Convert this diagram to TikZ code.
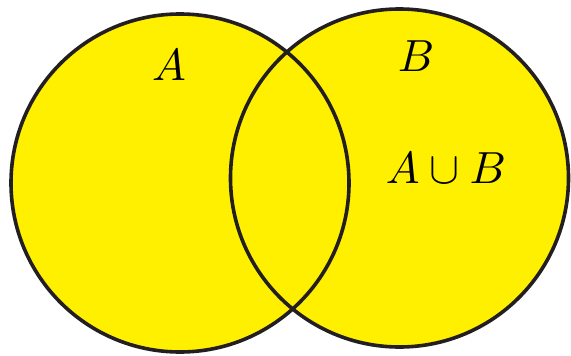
\documentclass[tikz,border=0pt]{standalone}
\definecolor{venn}{RGB}{255,240,0}
\definecolor{edge}{RGB}{35,31,32}
\tikzset{
  setfill/.style={fill=venn},
  setline/.style={draw=edge, line width=3.6pt},
  lbl/.style={inner sep=0pt, scale=4.5}
}
\begin{document}
\begin{tikzpicture}[x=1pt,y=-1pt]
\useasboundingbox (0,0) rectangle (571,356);
\coordinate (ca) at (180,183);
\coordinate (cb) at (399.5,178);
\fill[setfill] (ca) circle (169);
\fill[setfill] (cb) circle (169);
\draw[setline] (ca) circle (169);
\draw[setline] (cb) circle (169);
\node[lbl] (la) at (169,65) {$A$};
\node[lbl] (lb) at (416,56) {$B$};
\node[lbl] (lab) at (446,168) {$A\cup B$};
\end{tikzpicture}
\end{document}
